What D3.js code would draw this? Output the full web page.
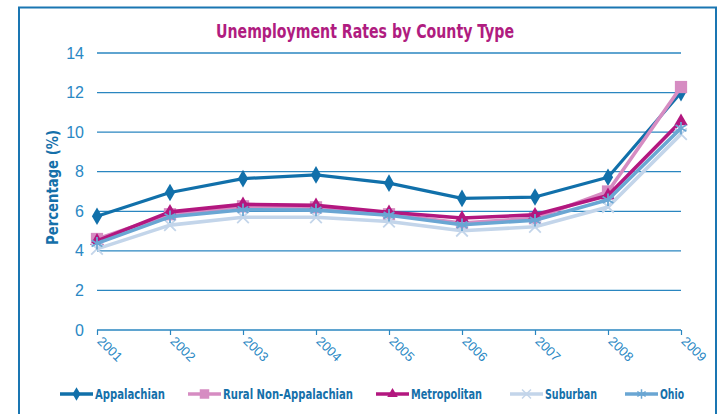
<!DOCTYPE html>
<html><head><meta charset="utf-8">
<script src="https://cdn.jsdelivr.net/npm/d3@7"></script>
<style>
html,body{margin:0;padding:0;background:#fff;}
svg{display:block;}
</style></head>
<body>
<svg id="chart" width="719" height="414"></svg>
<script>
const years = ["2001","2002","2003","2004","2005","2006","2007","2008","2009"];
const yTicks = [0,2,4,6,8,10,12,14];
const seriesNames = ["Appalachian","Rural Non-Appalachian","Metropolitan","Suburban","Ohio"];
const appalachian = [5.75, 6.95, 7.65, 7.84, 7.42, 6.65, 6.72, 7.72, 12.0];
const ruralNonAppalachian = [4.6, 5.85, 6.25, 6.2, 5.85, 5.4, 5.65, 7.0, 12.28];
const metropolitan = [4.5, 5.97, 6.35, 6.3, 5.95, 5.66, 5.82, 6.8, 10.55];
const suburban = [4.1, 5.3, 5.7, 5.7, 5.48, 5.02, 5.22, 6.22, 9.9];
const ohio = [4.38, 5.72, 6.08, 6.06, 5.8, 5.32, 5.55, 6.58, 10.2];
const title = "Unemployment Rates by County Type";
const yLabel = "Percentage (%)";

const colors = ["#1170aa","#d68cc2","#b3177f","#c3d5ea","#6aa6d3"];
const symbols = [d3.symbolDiamond, d3.symbolSquare, d3.symbolTriangle, d3.symbolX, d3.symbolAsterisk];
const symSizes = [90, 150, 80, 90, 110];
const filled = [true, true, true, false, false];
const lineWidths = [3.2, 3.6, 3.6, 3.6, 3.6];
const data = [appalachian, ruralNonAppalachian, metropolitan, suburban, ohio];

const svg = d3.select("#chart");
const condensed = "'DejaVu Sans Condensed','Liberation Sans',sans-serif";

// frame
svg.append("rect").attr("x",19).attr("y",7.5).attr("width",697).attr("height",420)
  .attr("fill","none").attr("stroke","#1a76b2").attr("stroke-width",2);

const x = d3.scalePoint().domain(years).range([97,681]);
const y = d3.scaleLinear().domain([0,14]).range([330,53]);

// title
svg.append("text").attr("x",216).attr("y",38)
  .attr("font-family",condensed).attr("font-weight","bold").attr("font-size",19)
  .attr("textLength",298).attr("lengthAdjust","spacingAndGlyphs")
  .attr("fill","#b01c80").text(title);

// gridlines
svg.append("g").selectAll("line").data(yTicks.filter(d=>d>0)).join("line")
  .attr("x1",97).attr("x2",681).attr("y1",d=>y(d)).attr("y2",d=>y(d))
  .attr("stroke","#2a86c0").attr("stroke-width",1.3);

// y axis labels
const yAxis = d3.axisLeft(y).tickValues(yTicks).tickSize(0).tickPadding(13);
const gy = svg.append("g").attr("transform","translate(97,0)").call(yAxis);
gy.select(".domain").remove();
gy.selectAll("text").attr("font-family","'Liberation Sans',sans-serif")
  .attr("font-size",16).attr("fill","#2a88c4");

// x axis
const xAxis = d3.axisBottom(x).tickSize(5).tickSizeOuter(0);
const gx = svg.append("g").attr("transform","translate(0,330)").call(xAxis);
gx.select(".domain").attr("stroke","#2a86c0").attr("stroke-width",1.5).attr("d","M97,0H681");
gx.selectAll(".tick line").attr("stroke","#2a86c0").attr("stroke-width",1.2);
gx.selectAll("text").attr("font-family","'Liberation Sans',sans-serif")
  .attr("font-size",13).attr("fill","#2a88c4")
  .attr("text-anchor","start").attr("y",0).attr("dy","0.75em")
  .attr("transform","translate(6,5) rotate(45)");

// y label
svg.append("text").attr("transform","translate(58,245) rotate(-90)")
  .attr("font-family",condensed).attr("font-weight","bold")
  .attr("font-size",16).attr("textLength",115).attr("lengthAdjust","spacingAndGlyphs")
  .attr("fill","#1570aa").text(yLabel);

// lines
const line = d3.line().x((d,i)=>x(years[i])).y(d=>y(d));
data.forEach((vals,k)=>{
  const g = svg.append("g");
  g.append("path").attr("d",line(vals)).attr("fill","none")
    .attr("stroke",colors[k]).attr("stroke-width",lineWidths[k]).attr("stroke-linejoin","round");
  const sym = d3.symbol().type(symbols[k]).size(symSizes[k]);
  g.selectAll("path.m").data(vals).join("path").attr("class","m")
    .attr("transform",(d,i)=>`translate(${x(years[i])},${y(d)})`)
    .attr("d",sym)
    .attr("fill",filled[k]?colors[k]:"none")
    .attr("stroke",colors[k]).attr("stroke-width",filled[k]?0:1.8);
});

// legend
const legendX = [60,188,376,510,625];
const legendW = [70,130,71,52,24];
const lg = svg.append("g");
seriesNames.forEach((name,k)=>{
  const cy = 394;
  lg.append("line").attr("x1",legendX[k]).attr("x2",legendX[k]+33).attr("y1",cy).attr("y2",cy)
    .attr("stroke",colors[k]).attr("stroke-width",3.5);
  const sym = d3.symbol().type(symbols[k]).size(symSizes[k]*0.6);
  lg.append("path").attr("transform",`translate(${legendX[k]+16.5},${cy})`).attr("d",sym)
    .attr("fill",filled[k]?colors[k]:"none").attr("stroke",colors[k]).attr("stroke-width",filled[k]?0:1.5);
  lg.append("text").attr("x",legendX[k]+35).attr("y",cy+5)
    .attr("font-family",condensed).attr("font-weight","bold").attr("font-size",14)
    .attr("textLength",legendW[k]).attr("lengthAdjust","spacingAndGlyphs")
    .attr("fill","#1570aa").text(name);
});
</script>
</body></html>
